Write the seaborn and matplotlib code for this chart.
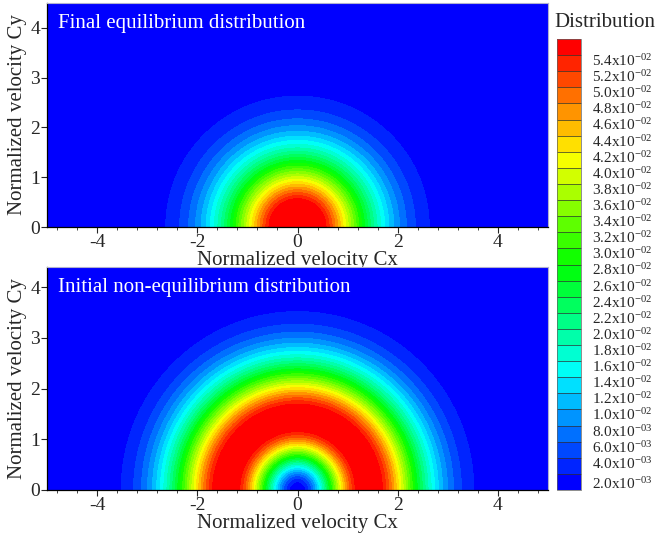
import numpy as np
import matplotlib
matplotlib.use("Agg")
import matplotlib.pyplot as plt
import matplotlib.colors as mcolors
import matplotlib.cm as cm
import seaborn as sns

# ---------------- data ----------------
levels = [0.002, 0.004, 0.006, 0.008, 0.010, 0.012, 0.014, 0.016, 0.018,
          0.020, 0.022, 0.024, 0.026, 0.028, 0.030, 0.032, 0.034, 0.036,
          0.038, 0.040, 0.042, 0.044, 0.046, 0.048, 0.050, 0.052, 0.054]
level_labels = ["2.0x10^{-03}", "4.0x10^{-03}", "6.0x10^{-03}", "8.0x10^{-03}",
                "1.0x10^{-02}", "1.2x10^{-02}", "1.4x10^{-02}", "1.6x10^{-02}",
                "1.8x10^{-02}", "2.0x10^{-02}", "2.2x10^{-02}", "2.4x10^{-02}",
                "2.6x10^{-02}", "2.8x10^{-02}", "3.0x10^{-02}", "3.2x10^{-02}",
                "3.4x10^{-02}", "3.6x10^{-02}", "3.8x10^{-02}", "4.0x10^{-02}",
                "4.2x10^{-02}", "4.4x10^{-02}", "4.6x10^{-02}", "4.8x10^{-02}",
                "5.0x10^{-02}", "5.2x10^{-02}", "5.4x10^{-02}"]
x_ticks = [-4, -2, 0, 2, 4]
y_ticks = [0, 1, 2, 3, 4]
panel_titles = ["Final equilibrium distribution", "Initial non-equilibrium distribution"]

# field parameters (peak value, width^2)
eq_peak, eq_width2 = 0.0635, 2.0
init_amp, init_width2 = 0.079, 2.0

# ---------------- style ----------------
sns.set_theme(style="ticks")
plt.rcParams["font.family"] = ["Liberation Serif", "DejaVu Serif"]
plt.rcParams["mathtext.fontset"] = "custom"
plt.rcParams["mathtext.rm"] = "Liberation Serif"
plt.rcParams["axes.unicode_minus"] = False

cmap_cont = sns.blend_palette(["#0000ff", "#00ffff", "#00ff00", "#ffff00", "#ff0000"],
                              as_cmap=True)
n_lev = len(levels)
n_band = n_lev + 1
band_colors = [cmap_cont(j / (n_band - 1)) for j in range(n_band)]
band_levels = [-1.0] + levels + [1.0]

cx = np.linspace(-5, 5, 801)
cy = np.linspace(0, 4.5, 361)
CX, CY = np.meshgrid(cx, cy)
R2 = CX**2 + CY**2
f_eq = eq_peak * np.exp(-R2 / eq_width2)
f_init = init_amp * R2 * np.exp(-R2 / init_width2)

W, H = 657, 533
fig = plt.figure(figsize=(W / 100, H / 100), dpi=100)

def pix_axes(left, top, right, bottom):
    return fig.add_axes([left / W, 1 - bottom / H, (right - left) / W, (bottom - top) / H])

ax_top = pix_axes(47, 3, 548, 227)
ax_bot = pix_axes(47, 267, 548, 490)

for ax, field, title, ytop in [(ax_top, f_eq, panel_titles[0], 4.5),
                               (ax_bot, f_init, panel_titles[1], 4.4)]:
    ax.contourf(CX, CY, field, levels=band_levels, colors=band_colors, antialiased=False)
    ax.set_xlim(-5, 5)
    ax.set_ylim(0, ytop)
    ax.set_xticks(x_ticks)
    ax.set_xticks(np.arange(-4.8, 5.0, 0.4), minor=True)
    ax.set_yticks(y_ticks)
    ax.tick_params(axis="both", which="major", direction="out", length=4, width=0.8,
                   labelsize=14, pad=1)
    ax.tick_params(axis="x", which="minor", direction="out", length=2.5, width=0.6)
    ax.set_xlabel("Normalized velocity Cx", fontsize=15, labelpad=0)
    ax.set_ylabel("Normalized velocity Cy", fontsize=15, labelpad=2)
    for s in ["left", "bottom"]:
        ax.spines[s].set_color("black")
        ax.spines[s].set_linewidth(0.9)
    for s in ["top", "right"]:
        ax.spines[s].set_color("#b0b0d0")
        ax.spines[s].set_linewidth(0.8)
    ax.text(0.022, 0.91, title, transform=ax.transAxes,
            color="white", fontsize=15, ha="left", va="center")

# colorbar: half boxes at both ends, full boxes between level lines
cax = pix_axes(557, 39, 581, 490)
cb_bounds = np.concatenate([[-0.5], np.arange(n_lev), [n_lev - 0.5]])
cb_cmap = mcolors.ListedColormap(band_colors)
cb_norm = mcolors.BoundaryNorm(cb_bounds, n_band)
sm = cm.ScalarMappable(norm=cb_norm, cmap=cb_cmap)
cb = fig.colorbar(sm, cax=cax, boundaries=cb_bounds,
                  ticks=np.arange(n_lev) - 0.28, drawedges=True)
cb.dividers.set_color("#303030")
cb.dividers.set_linewidth(0.5)
cb.outline.set_linewidth(0.5)
cb.outline.set_edgecolor("#606060")
cb.ax.minorticks_off()
cb.ax.set_yticklabels([r"$\mathregular{" + s + "}$" for s in level_labels], fontsize=11)
cb.ax.tick_params(which="both", length=0, pad=8)
fig.text(605 / W, 1 - 22 / H, "Distribution", fontsize=15, ha="center", va="center")

fig.savefig("out.png", dpi=100)
